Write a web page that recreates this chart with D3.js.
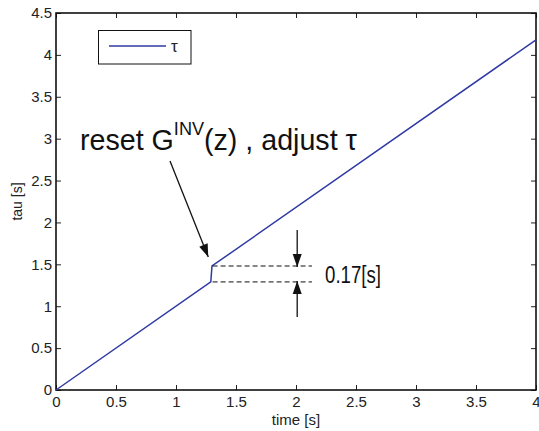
<!DOCTYPE html>
<html><head><meta charset="utf-8">
<script src="https://cdn.jsdelivr.net/npm/d3@7"></script>
<style>body{margin:0;background:#fff;} text{font-family:"Liberation Sans",Arial,Helvetica,sans-serif;}</style>
</head><body><svg id="c" width="539" height="431"></svg>
<script>
// data
const timeVals = [0, 1.29, 1.30, 4.0];
const tauVals  = [0, 1.29, 1.48, 4.18];
const xTicks = [0, 0.5, 1, 1.5, 2, 2.5, 3, 3.5, 4];
const yTicks = [0, 0.5, 1, 1.5, 2, 2.5, 3, 3.5, 4, 4.5];
const seriesName = "τ";
const jumpLow = 1.29, jumpHigh = 1.48, jumpLabel = "0.17[s]";

const svg = d3.select("#c");
const m = {l:56, t:13, r:3, b:41};
const W = 539 - m.l - m.r, H = 431 - m.t - m.b;
const x = d3.scaleLinear().domain([0,4]).range([m.l, m.l+W]);
const y = d3.scaleLinear().domain([0,4.5]).range([m.t+H, m.t]);

const fmt = d => String(d);
// axes with inner ticks
const gx = svg.append("g").attr("transform",`translate(0,${m.t+H})`)
  .call(d3.axisBottom(x).tickValues(xTicks).tickSize(-5).tickPadding(6).tickFormat(fmt));
const gxt = svg.append("g").attr("transform",`translate(0,${m.t})`)
  .call(d3.axisTop(x).tickValues(xTicks).tickSize(-5).tickFormat(""));
const gy = svg.append("g").attr("transform",`translate(${m.l},0)`)
  .call(d3.axisLeft(y).tickValues(yTicks).tickSize(-5).tickPadding(4).tickFormat(fmt));
const gyr = svg.append("g").attr("transform",`translate(${m.l+W},0)`)
  .call(d3.axisRight(y).tickValues(yTicks).tickSize(-5).tickFormat(""));
[gx,gxt,gy,gyr].forEach(g=>{
  g.select(".domain").remove();
  g.selectAll(".tick line").attr("stroke","#222").attr("stroke-width",1);
  g.selectAll(".tick text").attr("font-size",15).attr("fill","#222")
   .attr("font-family","Liberation Sans, Arial, sans-serif");
});
svg.append("rect").attr("x",m.l).attr("y",m.t).attr("width",W).attr("height",H)
  .attr("fill","none").attr("stroke","#111").attr("stroke-width",1.6);

// axis labels
svg.append("text").attr("x",x(2)).attr("y",425).attr("text-anchor","middle")
  .attr("font-size",15).attr("fill","#222").text("time [s]");
svg.append("text").attr("transform",`translate(22,${y(2.25)}) rotate(-90)`)
  .attr("text-anchor","middle").attr("font-size",14).attr("fill","#222").text("tau [s]");

// series line
const blue = "#2f3aa3";
const pts = timeVals.map((t,i)=>[t,tauVals[i]]);
svg.append("path").datum(pts).attr("fill","none").attr("stroke",blue).attr("stroke-width",1.5)
  .attr("d", d3.line().x(d=>x(d[0])).y(d=>y(d[1])));

// legend
svg.append("rect").attr("x",98.5).attr("y",30.5).attr("width",92.5).attr("height",33.5)
  .attr("fill","#fff").attr("stroke","#111").attr("stroke-width",1);
svg.append("line").attr("x1",109).attr("x2",166).attr("y1",46).attr("y2",46)
  .attr("stroke",blue).attr("stroke-width",1.5);
svg.append("text").attr("x",171).attr("y",52).attr("font-size",17).attr("fill","#222").text(seriesName);

// arrow helper
function arrow(x1,y1,x2,y2){
  svg.append("line").attr("x1",x1).attr("y1",y1).attr("x2",x2).attr("y2",y2)
    .attr("stroke","#111").attr("stroke-width",1.3);
  const a = Math.atan2(y2-y1,x2-x1), L=13, w=4.5;
  const bx = x2-L*Math.cos(a), by = y2-L*Math.sin(a);
  const px = -Math.sin(a)*w, py = Math.cos(a)*w;
  svg.append("path").attr("d",`M${x2},${y2}L${bx+px},${by+py}L${bx-px},${by-py}Z`).attr("fill","#111");
}

// annotation text
const ann = svg.append("text").attr("x",0).attr("y",0).attr("font-size",30).attr("fill","#111");
ann.append("tspan").text("reset G");
ann.append("tspan").attr("font-size",19).attr("dy",-15).text("INV");
ann.append("tspan").attr("dy",15).text("(z) , adjust τ");
{
  const w = ann.node().getComputedTextLength();
  const s = 277 / w;
  ann.attr("transform",`translate(${x(0.2)},${y(2.865)}) scale(${s},1)`);
}
arrow(x(0.95), y(2.733), x(1.269), y(1.587));

// dashed lines
[jumpLow, jumpHigh].forEach(v=>{
  svg.append("line").attr("x1",x(1.305)).attr("x2",x(2.133)).attr("y1",y(v)).attr("y2",y(v))
    .attr("stroke","#111").attr("stroke-width",1).attr("stroke-dasharray","5,3");
});
arrow(x(2.01), y(1.91), x(2.01), y(jumpHigh)+1);
arrow(x(2.01), y(0.871), x(2.01), y(jumpLow)-1);

const lab = svg.append("text").attr("font-size",24).attr("fill","#111").text(jumpLabel);
{
  const w = lab.node().getComputedTextLength();
  lab.attr("transform",`translate(${x(2.242)},${y(1.283)}) scale(${56/w},1)`);
}
</script></body></html>
